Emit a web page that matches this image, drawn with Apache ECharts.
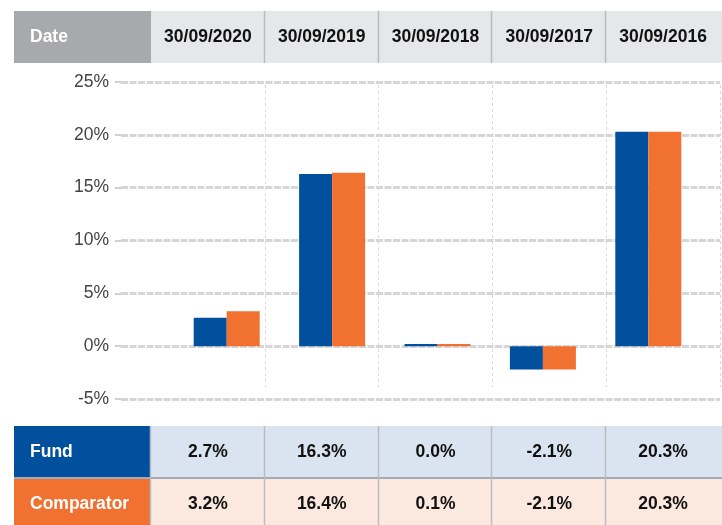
<!DOCTYPE html>
<html>
<head>
<meta charset="utf-8">
<script src="https://cdn.jsdelivr.net/npm/echarts@6/dist/echarts.min.js"></script>
<style>html,body{margin:0;padding:0;background:#fff;}#c{width:722px;height:525px;}</style>
</head>
<body>
<div id="c"></div>
<script>
var dates = ['30/09/2020', '30/09/2019', '30/09/2018', '30/09/2017', '30/09/2016'];
var fundBars = [2.7, 16.3, 0.2, -2.2, 20.3];
var compBars = [3.3, 16.4, 0.2, -2.2, 20.3];
var fundLabels = ['2.7%', '16.3%', '0.0%', '-2.1%', '20.3%'];
var compLabels = ['3.2%', '16.4%', '0.1%', '-2.1%', '20.3%'];
var yTicks = [-5, 0, 5, 10, 15, 20, 25];

var BLUE = '#00509e', ORANGE = '#f17131';
var FONT = '"Liberation Sans", Arial, sans-serif';
var colX0 = 151, colW = 113.8, tableLeft = 14;

var g = [];
function rect(x, y, w, h, fill) { g.push({type: 'rect', shape: {x: x, y: y, width: w, height: h}, style: {fill: fill}, silent: true}); }
function line(x1, y1, x2, y2, c, w) { g.push({type: 'line', shape: {x1: x1, y1: y1, x2: x2, y2: y2}, style: {stroke: c, lineWidth: w}, silent: true}); }
function text(s, x, y, c, align) { g.push({type: 'text', x: x, y: y, style: {text: s, fill: c, font: 'bold 17.5px ' + FONT, textAlign: align, textVerticalAlign: 'middle'}, silent: true}); }

// header row
rect(tableLeft, 11, colX0 - tableLeft, 52, '#a7a9ac');
rect(colX0, 11, 722 - colX0, 52, '#e6e7e8');
text('Date', 30, 37, '#ffffff', 'left');
// bottom rows
rect(tableLeft, 426, colX0 - tableLeft, 52, BLUE);
rect(colX0, 426, 722 - colX0, 52, '#dae4f0');
rect(tableLeft, 478, colX0 - tableLeft, 47, ORANGE);
rect(colX0, 478, 722 - colX0, 47, '#fbe8df');
line(tableLeft, 478, 722, 478, '#a3abb5', 2);
text('Fund', 30, 452, '#ffffff', 'left');
text('Comparator', 30, 504, '#ffffff', 'left');
for (var i = 0; i < dates.length; i++) {
  var cx = colX0 + colW * (i + 0.5);
  text(dates[i], cx, 37, '#111111', 'center');
  text(fundLabels[i], cx, 452, '#111111', 'center');
  text(compLabels[i], cx, 504, '#111111', 'center');
}
for (var j = 0; j < dates.length; j++) {
  var bx = Math.round(colX0 + colW * j) - 0.5;
  if (j > 0) line(bx, 11, bx, 63, '#b8babd', 1.5);
  line(bx, 426, bx, 525, '#b9bdc2', 1.5);
}

var chart = echarts.init(document.getElementById('c'), null, {renderer: 'canvas'});
chart.setOption({
  animation: false,
  textStyle: {fontFamily: FONT},
  grid: [
    {left: 121, right: 2, top: 82, bottom: 126},
    {left: 174, right: 21, top: 82, bottom: 126},
    {left: colX0, right: 722 - (colX0 + colW * 5), top: 85, bottom: 138}
  ],
  xAxis: [
    {gridIndex: 0, type: 'category', data: [''], show: false},
    {gridIndex: 1, type: 'category', data: dates, show: false},
    {gridIndex: 2, type: 'value', min: 0, max: 5, interval: 1,
      axisLine: {show: false}, axisTick: {show: false}, axisLabel: {show: false},
      splitLine: {show: true, showMinLine: false, lineStyle: {color: '#d9d9d9', width: 1, type: [3, 3]}}}
  ],
  yAxis: [
    {gridIndex: 0, type: 'value', min: yTicks[0], max: yTicks[yTicks.length - 1], interval: 5,
      axisLine: {show: false},
      axisTick: {show: true, length: 6, lineStyle: {color: '#d0d0d0', width: 2}},
      axisLabel: {formatter: '{value}%', color: '#444444', fontSize: 17.5, margin: 12, fontFamily: FONT},
      splitLine: {lineStyle: {color: '#d6d6d6', width: 3, type: [7, 1.5]}}},
    {gridIndex: 1, type: 'value', min: yTicks[0], max: yTicks[yTicks.length - 1], interval: 5, show: false, splitLine: {show: false}},
    {gridIndex: 2, type: 'value', show: false, splitLine: {show: false}}
  ],
  series: [
    {name: 'Fund', type: 'bar', xAxisIndex: 1, yAxisIndex: 1, data: fundBars, barWidth: 33, barGap: '0%',
      itemStyle: {color: BLUE}},
    {name: 'Comparator', type: 'bar', xAxisIndex: 1, yAxisIndex: 1, data: compBars, barWidth: 33, barGap: '0%',
      itemStyle: {color: ORANGE}}
  ],
  graphic: g
});
</script>
</body>
</html>
